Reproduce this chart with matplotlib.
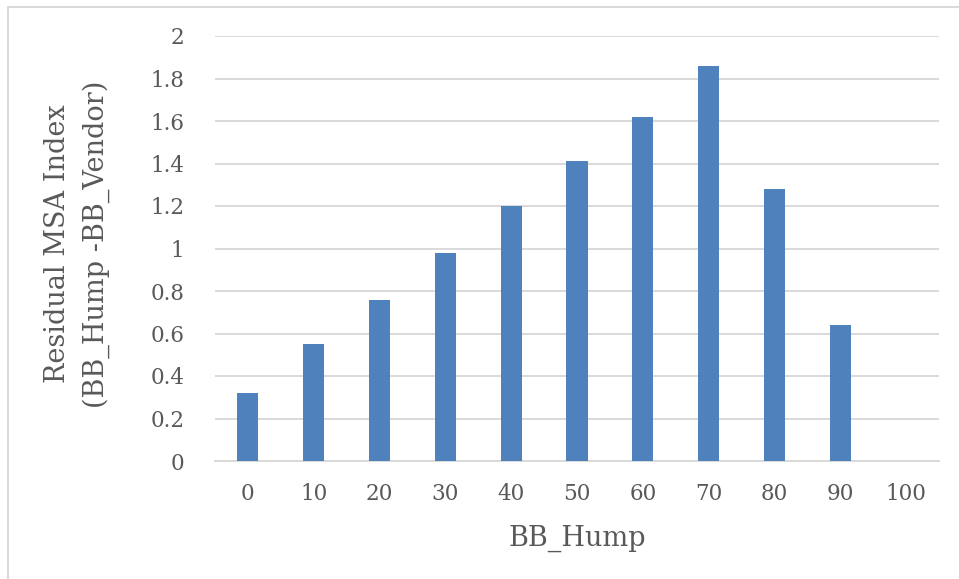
import matplotlib.pyplot as plt
from matplotlib.lines import Line2D

# BB_Hump levels and residual MSA index per level
hump = ['0', '10', '20', '30', '40', '50', '60', '70', '80', '90', '100']
residual = [0.32, 0.55, 0.76, 0.98, 1.20, 1.41, 1.62, 1.86, 1.28, 0.64, 0.0]
yticks = [0, 0.2, 0.4, 0.6, 0.8, 1, 1.2, 1.4, 1.6, 1.8, 2]

text_color = '#595959'
grid_color = '#d9d9d9'
plt.rcParams['font.family'] = ['DejaVu Serif']

fig = plt.figure(figsize=(9.59, 5.79), dpi=100)
ax = fig.add_axes([215 / 959, 1 - 461 / 579, 724 / 959, 425 / 579])

# Bars
x = list(range(len(hump)))
ax.bar(x, residual, width=0.32, color='#4f81bd', zorder=3)

ax.set_xlim(-0.5, len(hump) - 0.5)
ax.set_ylim(0, 2)
ax.set_yticks(yticks)
ax.set_yticklabels(['0', '0.2', '0.4', '0.6', '0.8', '1', '1.2', '1.4', '1.6', '1.8', '2'])
ax.set_xticks(x)
ax.set_xticklabels(hump)

# Horizontal gridlines only
ax.yaxis.grid(True, color=grid_color, linewidth=1.4, zorder=0)
for side in ['left', 'right', 'top']:
    ax.spines[side].set_visible(False)
ax.spines['bottom'].set_color(grid_color)
ax.spines['bottom'].set_linewidth(1.4)
ax.tick_params(axis='both', length=0, labelsize=15.5, colors=text_color)
ax.tick_params(axis='y', pad=22)
ax.tick_params(axis='x', pad=16)

# Axis titles
ax.set_xlabel('BB_Hump', fontsize=19.5, color=text_color, labelpad=14)
fig.text(77 / 959, 1 - 244 / 579, 'Residual MSA Index\n(BB_Hump -BB_Vendor)',
         fontsize=19.5, color=text_color, rotation=90, ha='center', va='center',
         linespacing=1.55, multialignment='center')

# Chart frame (top and left edges)
fig.add_artist(Line2D([8 / 959, 8 / 959], [0, 1 - 7 / 579],
                      color=grid_color, linewidth=1.4, transform=fig.transFigure))
fig.add_artist(Line2D([8 / 959, 1], [1 - 7 / 579, 1 - 7 / 579],
                      color=grid_color, linewidth=1.4, transform=fig.transFigure))

plt.savefig('out.png', dpi=100)
